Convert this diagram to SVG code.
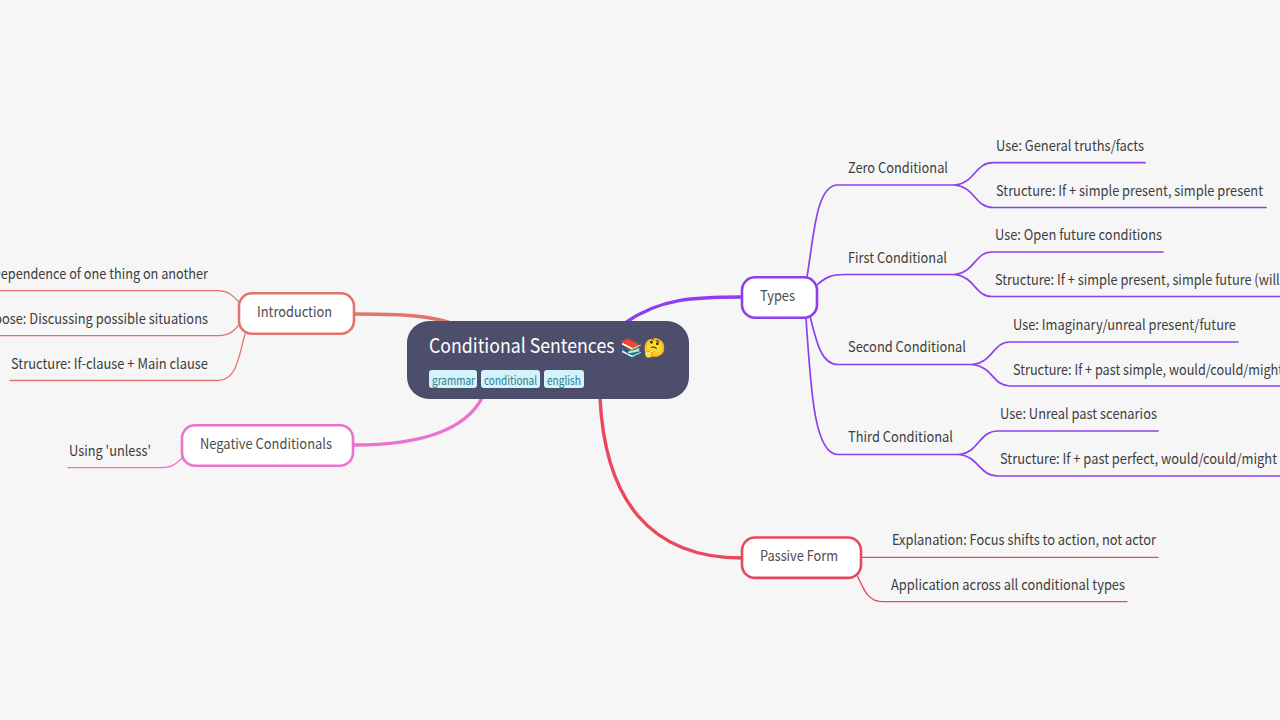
<svg xmlns="http://www.w3.org/2000/svg" width="1280" height="720" viewBox="0 0 1280 720">
<style>
text{font-family:"Noto Sans CJK SC","Noto Sans",sans-serif;font-size:14.5px;fill:#3d3d3d}
.c{fill:none;stroke-linecap:round}
.p{stroke:#8f3ff0}.r{stroke:#e2746f}.k{stroke:#ec72d0}.d{stroke:#e8485d}
.t1{stroke-width:3.4}.t2{stroke-width:1.7}.t3{stroke-width:1.3}
.n{fill:#fff;stroke-width:2.6}
.m{fill:#4c4c4c}
.tag{fill:#d3f2f9}.tt{font-size:12px;fill:#2f7a90}
</style>
<rect width="1280" height="720" fill="#f6f6f6"/>
<g id="connectors">
<path class="c p t1" d="M625 323C660 298 695 297 742 297"/>
<path class="c r t1" d="M448 322C420 314 385 314 354 314"/>
<path class="c k t1" d="M482 398C465 430 420 445 354 445"/>
<path class="c d t1" d="M600 398C605 500 650 558 742 558"/>
<path class="c p t2" d="M807 277C814 235 816 185 838 185H955"/>
<path class="c p t2" d="M816 286C825 277 832 274.500 845 274.500H955"/>
<path class="c p t2" d="M810 316C817 345 822 364.500 838 364.500H973"/>
<path class="c p t2" d="M806 318C811 395 815 454.500 838 454.500H960"/>
<path class="c p t2" d="M955 185C975 183 975 162.700 993 162.700H1145"/>
<path class="c p t2" d="M955 185C975 187 975 207.500 993 207.500H1266"/>
<path class="c p t2" d="M955 274.500C975 272 975 252 992 252H1163"/>
<path class="c p t2" d="M955 274.500C975 277 975 296.500 992 296.500H1280"/>
<path class="c p t2" d="M973 364.500C993 362 993 342 1010 342H1238"/>
<path class="c p t2" d="M973 364.500C993 367 993 386 1010 386H1280"/>
<path class="c p t2" d="M960 454.500C979 452 979 431 998 431H1158"/>
<path class="c p t2" d="M960 454.500C979 457 979 476 998 476H1280"/>
<path class="c r t3" d="M239 302C232 295 228 290.700 218 290.700H0"/>
<path class="c r t3" d="M239 325C232 333 228 335.700 216 335.700H0"/>
<path class="c r t3" d="M245 334C239 355 237 380.500 218 380.500H10"/>
<path class="c k t3" d="M182 458C176 464 172 467.700 160 467.700H68"/>
<path class="c d t3" d="M861 557.300H1158"/>
<path class="c d t3" d="M857 575C864 590 868 601.700 882 601.700H1127"/>
</g>
<g id="root">
<rect x="407" y="321" width="282" height="78" rx="22" fill="#4c4e6b"/>
<text transform="translate(429 353) scale(.886 1)" style="font-size:20px;fill:#fff">Conditional Sentences</text>
<text x="619.500" y="354" style="font-size:18.500px;fill:#fff">📚🤔</text>
<rect class="tag" x="429" y="370" width="48" height="18" rx="3"/><text class="tt" x="432" y="385" textLength="43" lengthAdjust="spacingAndGlyphs">grammar</text>
<rect class="tag" x="481" y="370" width="59" height="18" rx="3"/><text class="tt" x="484" y="385" textLength="53" lengthAdjust="spacingAndGlyphs">conditional</text>
<rect class="tag" x="544" y="370" width="40" height="18" rx="3"/><text class="tt" x="547" y="385" textLength="34" lengthAdjust="spacingAndGlyphs">english</text>
</g>
<g id="types"><rect class="n p" x="742" y="277.300" width="75" height="40.400" rx="13"/><text class="m" x="760" y="301" textLength="35" lengthAdjust="spacingAndGlyphs">Types</text></g>
<g id="introduction"><rect class="n r" x="239" y="293.300" width="115" height="40.400" rx="13"/><text class="m" x="257" y="317" textLength="75" lengthAdjust="spacingAndGlyphs">Introduction</text></g>
<g id="negative"><rect class="n k" x="182" y="425.300" width="171" height="40.400" rx="13"/><text class="m" x="200" y="449" textLength="132" lengthAdjust="spacingAndGlyphs">Negative Conditionals</text></g>
<g id="passive"><rect class="n d" x="742" y="537.500" width="119" height="40.400" rx="13"/><text class="m" x="760" y="561" textLength="78" lengthAdjust="spacingAndGlyphs">Passive Form</text></g>
<g id="zero"><text x="848" y="173" textLength="100" lengthAdjust="spacingAndGlyphs">Zero Conditional</text></g>
<g id="first"><text x="848" y="262.500" textLength="99" lengthAdjust="spacingAndGlyphs">First Conditional</text></g>
<g id="second"><text x="848" y="352" textLength="118" lengthAdjust="spacingAndGlyphs">Second Conditional</text></g>
<g id="third"><text x="848" y="441.500" textLength="105" lengthAdjust="spacingAndGlyphs">Third Conditional</text></g>
<g id="z1"><text x="996" y="150.500" textLength="148" lengthAdjust="spacingAndGlyphs">Use: General truths/facts</text></g>
<g id="z2"><text x="996" y="195.500" textLength="267" lengthAdjust="spacingAndGlyphs">Structure: If + simple present, simple present</text></g>
<g id="f1"><text x="995" y="239.500" textLength="167" lengthAdjust="spacingAndGlyphs">Use: Open future conditions</text></g>
<g id="f2"><text x="995" y="284.500" textLength="289" lengthAdjust="spacingAndGlyphs">Structure: If + simple present, simple future (will)</text></g>
<g id="s1"><text x="1013" y="329.500" textLength="223" lengthAdjust="spacingAndGlyphs">Use: Imaginary/unreal present/future</text></g>
<g id="s2"><text x="1013" y="374.500" textLength="270" lengthAdjust="spacingAndGlyphs">Structure: If + past simple, would/could/might</text></g>
<g id="th1"><text x="1000" y="418.500" textLength="157" lengthAdjust="spacingAndGlyphs">Use: Unreal past scenarios</text></g>
<g id="th2"><text x="1000" y="463.500" textLength="277" lengthAdjust="spacingAndGlyphs">Structure: If + past perfect, would/could/might</text></g>
<g id="i1"><text x="-8" y="279" textLength="216" lengthAdjust="spacingAndGlyphs">Dependence of one thing on another</text></g>
<g id="i2"><text x="-27" y="323.500" textLength="235" lengthAdjust="spacingAndGlyphs">Purpose: Discussing possible situations</text></g>
<g id="i3"><text x="11" y="368.500" textLength="197" lengthAdjust="spacingAndGlyphs">Structure: If-clause + Main clause</text></g>
<g id="n1"><text x="69" y="455.500" textLength="82" lengthAdjust="spacingAndGlyphs">Using 'unless'</text></g>
<g id="p1"><text x="892" y="545" textLength="264" lengthAdjust="spacingAndGlyphs">Explanation: Focus shifts to action, not actor</text></g>
<g id="p2"><text x="891" y="590" textLength="234" lengthAdjust="spacingAndGlyphs">Application across all conditional types</text></g>
</svg>
